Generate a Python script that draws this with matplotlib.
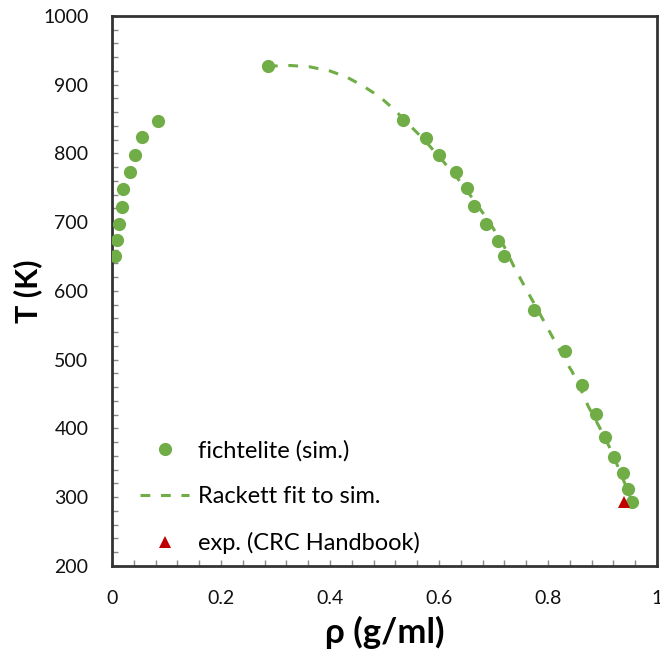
import numpy as np
import matplotlib
matplotlib.use('Agg')
import matplotlib.pyplot as plt
from matplotlib.ticker import MultipleLocator

plt.rcParams['font.family'] = ['Lato', 'DejaVu Sans']

# simulated coexistence points (density g/ml, temperature K)
vap_rho = [0.0055, 0.0097, 0.0134, 0.0178, 0.0207, 0.033, 0.0417, 0.0545, 0.0839]
vap_T = [651, 674, 697, 722, 748, 773, 798, 824, 847]

crit_rho = [0.286]
crit_T = [927]

liq_rho = [0.533, 0.577, 0.600, 0.631, 0.651, 0.665, 0.686, 0.709, 0.720,
           0.774, 0.831, 0.862, 0.888, 0.905, 0.921, 0.937, 0.947, 0.954]
liq_T = [848, 823, 798, 773, 750, 724, 698, 673, 651,
         572, 512, 463, 421, 388, 359, 335, 312, 293]

# Rackett fit curve
fit_rho = [0.286, 0.327, 0.363, 0.400, 0.431, 0.461, 0.492, 0.519, 0.545, 0.575,
           0.605, 0.635, 0.665, 0.695, 0.720, 0.739, 0.761, 0.780, 0.798, 0.813,
           0.830, 0.844, 0.860, 0.874, 0.895, 0.912, 0.928, 0.942, 0.955]
fit_T = [927, 928, 926, 920, 911, 898, 882, 863, 842, 818,
         791, 763, 731, 697, 664, 633, 601, 574, 548, 526,
         501, 483, 457, 432, 401, 374, 345, 318, 292]

# experimental point
exp_rho = [0.940]
exp_T = [293]

green = '#70AD47'
red = '#C00000'

fig = plt.figure(figsize=(6.6, 6.52), dpi=100)
ax = fig.add_axes([0.1697, 0.1319, 0.8258, 0.8436])

ax.plot(vap_rho + crit_rho + liq_rho, vap_T + crit_T + liq_T, 'o', color=green,
        markersize=9.5, markeredgewidth=0, label='fichtelite (sim.)', zorder=3)
ax.plot(fit_rho, fit_T, '--', color=green, lw=2.2, dashes=(3.2, 3.5),
        label='Rackett fit to sim.', zorder=2)
ax.plot(exp_rho, exp_T, '^', color=red, markersize=9, markeredgewidth=0,
        label='exp. (CRC Handbook)', zorder=4)

ax.set_xlim(0, 1)
ax.set_ylim(200, 1000)
ax.xaxis.set_minor_locator(MultipleLocator(0.04))
ax.yaxis.set_major_locator(MultipleLocator(100))
ax.yaxis.set_minor_locator(MultipleLocator(20))
ax.set_xticks([0, 0.2, 0.4, 0.6, 0.8, 1.0])
ax.set_xticklabels(['0', '0.2', '0.4', '0.6', '0.8', '1'])

ax.tick_params(which='both', direction='in', length=4, width=1, color='#888888',
               labelsize=14, labelcolor='#111111', pad=17)
for s in ax.spines.values():
    s.set_linewidth(2)
    s.set_color('#333333')

ax.set_xlabel('ρ (g/ml)', fontsize=25, fontweight='bold')
ax.set_ylabel('T (K)', fontsize=22, fontweight='bold')
ax.xaxis.set_label_coords(0.5, -0.09)
ax.yaxis.set_label_coords(-0.128, 0.5)

ax.legend(loc='lower left', bbox_to_anchor=(0.051, 0.022), frameon=False,
          fontsize=17, handlelength=2.1, labelspacing=1.05, handletextpad=0.35,
          borderpad=0, borderaxespad=0)

fig.savefig('out.png', dpi=100)
